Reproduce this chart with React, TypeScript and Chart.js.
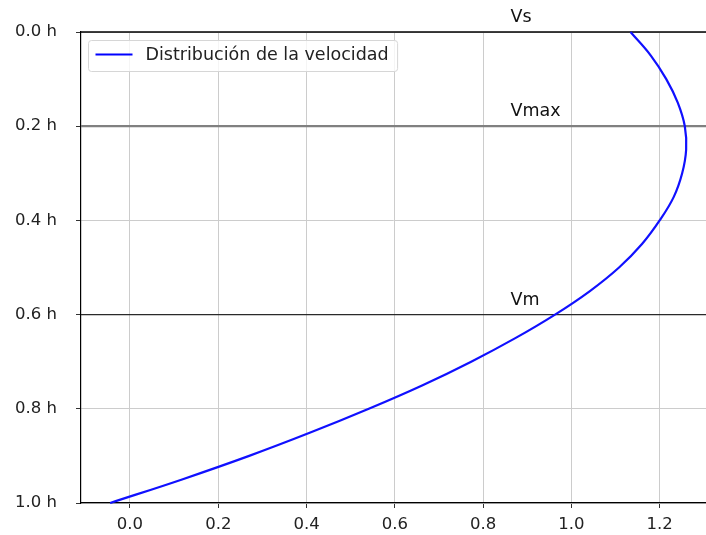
import React, { useEffect, useRef } from 'react';
import { Chart, registerables } from 'chart.js';

Chart.register(...registerables);

// Relative depth (fraction of h) and velocity
const depthFractions = [0, 0.05, 0.1, 0.15, 0.2, 0.25, 0.3, 0.35, 0.4, 0.45, 0.5, 0.55, 0.6, 0.65, 0.7, 0.75, 0.8, 0.85, 0.9, 0.95, 1.0];
const velocities = [1.134, 1.18, 1.215, 1.241, 1.257, 1.26, 1.251, 1.232, 1.2, 1.16, 1.108, 1.042, 0.963, 0.873, 0.773, 0.663, 0.541, 0.41, 0.27, 0.118, -0.045];

const xTickValues = [0, 0.2, 0.4, 0.6, 0.8, 1.0, 1.2];
const yTickValues = [0, 0.2, 0.4, 0.6, 0.8, 1.0];

const refLevels = [0, 0.2, 0.6];
const refLabels = ['Vs', 'Vmax', 'Vm'];
const refColors = ['#000000', '#808080', '#2a2a2a'];
const refWidths = [1.6, 2.2, 1.2];

const seriesLabel = 'Distribución de la velocidad';
const xMin = -0.111;
const xMax = 1.305;
const labelX = 0.862;
const labelOffset = 0.021;

const FONT = '"DejaVu Sans", "Liberation Sans", sans-serif';

const annotPlugin = {
  id: 'annotPlugin',
  afterDatasetsDraw(chart: any) {
    const { ctx, chartArea, scales } = chart;
    const x = scales.x;
    const y = scales.y;
    ctx.save();
    // reference labels
    ctx.font = `17.5px ${FONT}`;
    ctx.fillStyle = '#111111';
    ctx.textAlign = 'left';
    ctx.textBaseline = 'alphabetic';
    refLevels.forEach((lv, i) => {
      ctx.fillText(refLabels[i], x.getPixelForValue(labelX), y.getPixelForValue(lv - labelOffset));
    });
    // legend
    ctx.font = `17.5px ${FONT}`;
    const tw = ctx.measureText(seriesLabel).width;
    const L = chartArea.left + 7.5;
    const T = chartArea.top + 8.5;
    const W = 57 + tw + 9;
    const H = 31;
    const r = 3;
    ctx.beginPath();
    ctx.moveTo(L + r, T);
    ctx.lineTo(L + W - r, T);
    ctx.quadraticCurveTo(L + W, T, L + W, T + r);
    ctx.lineTo(L + W, T + H - r);
    ctx.quadraticCurveTo(L + W, T + H, L + W - r, T + H);
    ctx.lineTo(L + r, T + H);
    ctx.quadraticCurveTo(L, T + H, L, T + H - r);
    ctx.lineTo(L, T + r);
    ctx.quadraticCurveTo(L, T, L + r, T);
    ctx.closePath();
    ctx.fillStyle = 'rgba(255,255,255,0.8)';
    ctx.fill();
    ctx.strokeStyle = '#d6d6d6';
    ctx.lineWidth = 1;
    ctx.stroke();
    ctx.beginPath();
    ctx.moveTo(L + 7, T + 14);
    ctx.lineTo(L + 44, T + 14);
    ctx.strokeStyle = '#0000ff';
    ctx.lineWidth = 2;
    ctx.stroke();
    ctx.fillStyle = '#222222';
    ctx.textBaseline = 'middle';
    ctx.fillText(seriesLabel, L + 57, T + 15);
    ctx.restore();
  },
};

export default function App() {
  const canvasRef = useRef<HTMLCanvasElement | null>(null);

  useEffect(() => {
    const canvas = canvasRef.current;
    if (!canvas) return;

    const curve = depthFractions.map((h, i) => ({ x: velocities[i], y: h }));
    const refDatasets = refLevels.map((lv, i) => ({
      label: refLabels[i],
      data: [
        { x: xMin, y: lv },
        { x: xMax, y: lv },
      ],
      borderColor: refColors[i],
      borderWidth: refWidths[i],
      pointRadius: 0,
      showLine: true,
      clip: false as any,
      order: 2 + i,
    }));

    const chart = new Chart(canvas, {
      type: 'scatter',
      data: {
        datasets: [
          {
            label: seriesLabel,
            data: curve,
            borderColor: '#1010ff',
            borderWidth: 2.2,
            pointRadius: 0,
            showLine: true,
            tension: 0.4,
            clip: false as any,
            order: 0,
          },
          ...refDatasets,
        ],
      },
      options: {
        animation: false,
        responsive: false,
        devicePixelRatio: 1,
        layout: { padding: { top: 32, left: 0, right: 0, bottom: 0 } },
        plugins: {
          legend: { display: false },
          tooltip: { enabled: false },
        },
        scales: {
          x: {
            type: 'linear',
            min: xMin,
            max: xMax,
            afterBuildTicks: (s: any) => {
              s.ticks = xTickValues.map((v) => ({ value: v }));
            },
            afterFit: (s: any) => {
              s.height = 32;
            },
            grid: {
              color: '#cccccc',
              lineWidth: 1,
              tickLength: 5,
              tickColor: '#333333',
            },
            border: { display: true, color: '#000000', width: 1.2 },
            ticks: {
              padding: 7,
              color: '#222222',
              font: { family: FONT, size: 16.5 },
              callback: (v: any) => Number(v).toFixed(1),
            },
          },
          y: {
            type: 'linear',
            reverse: true,
            min: 0,
            max: 1,
            afterBuildTicks: (s: any) => {
              s.ticks = yTickValues.map((v) => ({ value: v }));
            },
            afterFit: (s: any) => {
              s.width = 81;
            },
            grid: {
              color: '#cccccc',
              lineWidth: 1,
              tickLength: 5,
              tickColor: '#333333',
            },
            border: { display: true, color: '#000000', width: 1.2 },
            ticks: {
              padding: 19,
              color: '#222222',
              font: { family: FONT, size: 16.5 },
              callback: (v: any) => `${Number(v).toFixed(1)} h`,
            },
          },
        },
      },
      plugins: [annotPlugin],
    });

    return () => chart.destroy();
  }, []);

  return (
    <div style={{ position: 'fixed', left: 0, top: 0, width: 706, height: 535, background: '#ffffff' }}>
      <canvas ref={canvasRef} width={706} height={535} style={{ display: 'block' }} />
    </div>
  );
}
